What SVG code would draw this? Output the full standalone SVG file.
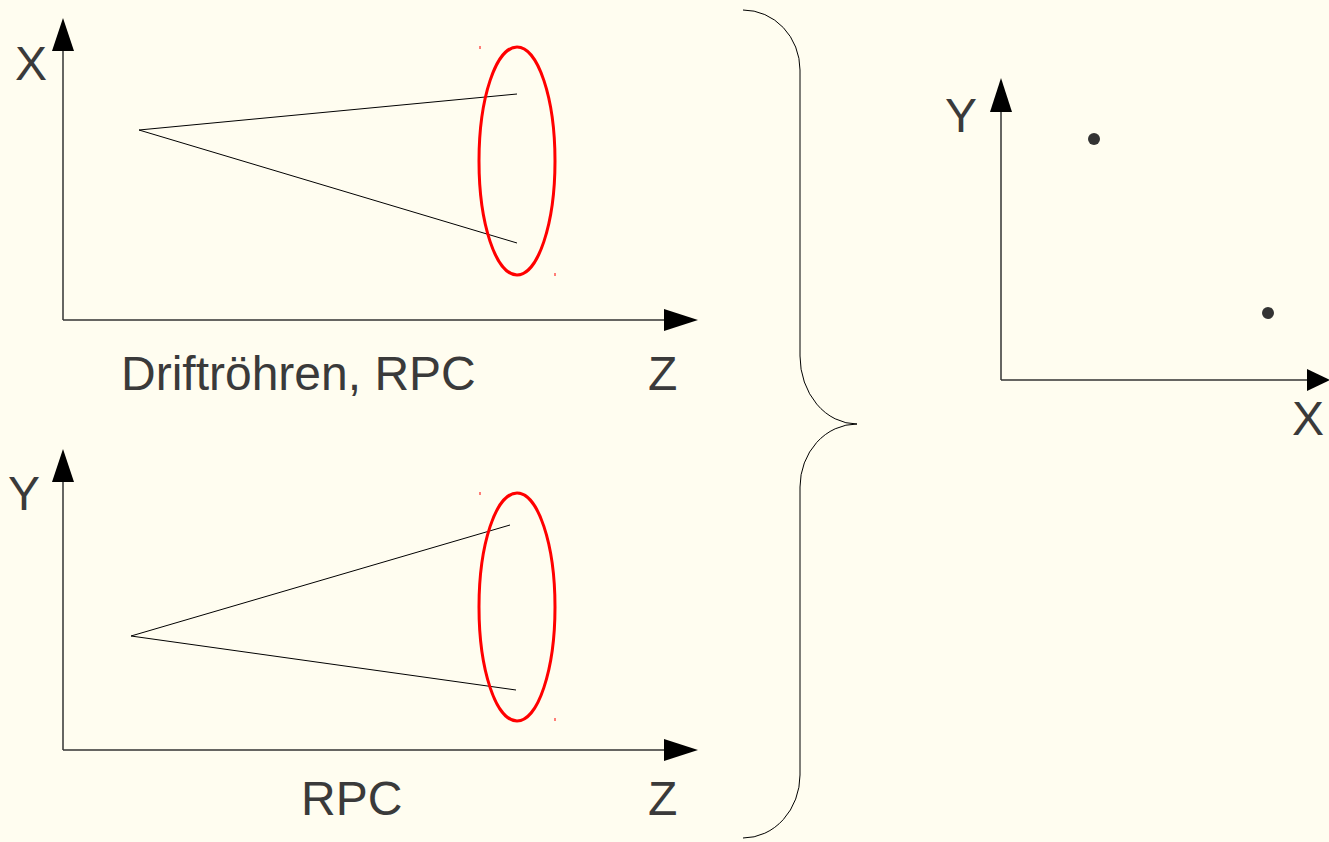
<svg xmlns="http://www.w3.org/2000/svg" width="1329" height="842" viewBox="0 0 1329 842">
  <style>
    .axis { stroke: #333; stroke-width: 1.5; fill: none; }
    .ray { stroke: #000; stroke-width: 1; fill: none; }
    .roi { stroke: #f00; stroke-width: 3; fill: none; }
    .tick { stroke: #f00; stroke-width: 1; }
    .head { fill: #000; }
    .lbl { font-family: "Liberation Sans", Arial, sans-serif; font-size: 48px; fill: #3a3a3a; }
    .brace { stroke: #000; stroke-width: 1; fill: none; }
    .hit { fill: #333; }
  </style>
  <rect width="1329" height="842" fill="#fffdf0"/>

  <!-- upper projection: X over Z -->
  <g id="panel-xz">
    <line class="axis" x1="63" y1="320" x2="63" y2="50"/>
    <polygon class="head" points="63,18 52,51 74,51"/>
    <line class="axis" x1="63" y1="320" x2="666" y2="320"/>
    <polygon class="head" points="698,320 664,309 664,331"/>
    <text class="lbl" x="15" y="80">X</text>
    <text class="lbl" x="648" y="390">Z</text>
    <text class="lbl" x="121" y="390">Driftröhren, RPC</text>
    <polyline class="ray" points="517,94 139,130 517,243"/>
    <ellipse class="roi" cx="517" cy="161" rx="38" ry="114"/>
    <line class="tick" x1="480" y1="46" x2="480" y2="49"/>
    <line class="tick" x1="555" y1="273" x2="555" y2="276"/>
  </g>

  <!-- lower projection: Y over Z -->
  <g id="panel-yz">
    <line class="axis" x1="63" y1="750" x2="63" y2="480"/>
    <polygon class="head" points="63,449 52,482 74,482"/>
    <line class="axis" x1="63" y1="750" x2="666" y2="750"/>
    <polygon class="head" points="698,750 664,739 664,761"/>
    <text class="lbl" x="8" y="510">Y</text>
    <text class="lbl" x="648" y="815">Z</text>
    <text class="lbl" x="301" y="815">RPC</text>
    <polyline class="ray" points="510,525 131,636 516,690"/>
    <ellipse class="roi" cx="517" cy="607" rx="38" ry="114"/>
    <line class="tick" x1="480" y1="492" x2="480" y2="495"/>
    <line class="tick" x1="555" y1="718" x2="555" y2="721"/>
  </g>

  <!-- brace joining both projections -->
  <g id="connectors">
    <path class="brace" d="M743,10 A57,60 0 0 1 800,70 L800,356 A57,68 0 0 0 857,424 A57,63 0 0 0 800,487 L800,775 A57,63 0 0 1 743,838"/>
  </g>

  <!-- combined view: Y over X -->
  <g id="panel-xy">
    <line class="axis" x1="1001" y1="380" x2="1001" y2="110"/>
    <polygon class="head" points="1001,78 990,112 1012,112"/>
    <line class="axis" x1="1001" y1="380" x2="1309" y2="380"/>
    <polygon class="head" points="1330,380 1307,369 1307,391"/>
    <text class="lbl" x="945" y="132">Y</text>
    <text class="lbl" x="1292" y="435">X</text>
    <circle class="hit" cx="1094" cy="139" r="6"/>
    <circle class="hit" cx="1268" cy="313" r="6"/>
  </g>
</svg>
